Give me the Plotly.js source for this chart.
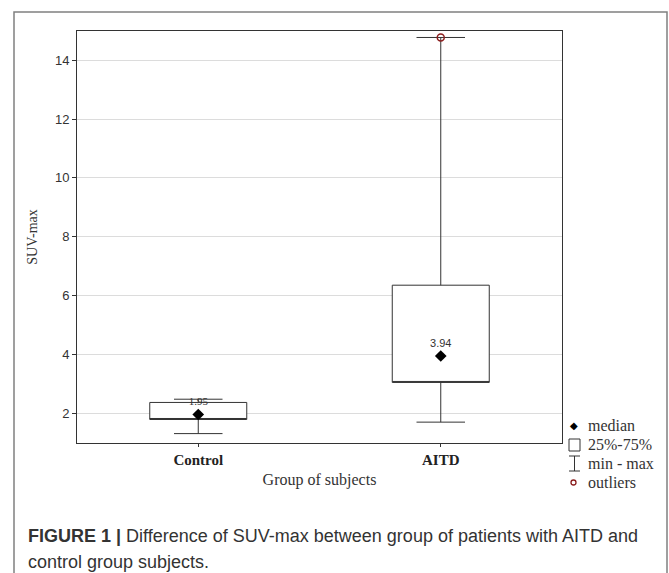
<!DOCTYPE html>
<html>
<head>
<meta charset="utf-8">
<script src="https://cdn.plot.ly/plotly-3.0.1.min.js"></script>
<style>html,body{margin:0;padding:0;background:#fff;}#chart{width:669px;height:573px;}</style>
</head>
<body>
<div id="chart"></div>
<script>
// ---- data ----
const groups = ['Control', 'AITD'];
const minVals = [1.30, 1.69];
const q1Vals = [1.78, 3.04];
const medianVals = [1.95, 3.94];
const q3Vals = [2.36, 6.35];
const maxVals = [2.47, 14.78];
const medianLabels = ['1.95', '3.94'];
const outlierGroups = ['AITD'];
const outlierVals = [14.78];
const yTicks = [2, 4, 6, 8, 10, 12, 14];

// ---- layout helpers (pixel -> paper) ----
const L = 77, R = 562, T = 31, B = 443, W = 669, H = 573;
const px = x => (x - L) / (R - L);
const py = y => (B - y) / (B - T);

const ink = '#333333';

const traces = [
  {
    type: 'box',
    x: groups,
    q1: q1Vals,
    median: q1Vals, // median line hidden on box edge; median drawn as diamond
    q3: q3Vals,
    lowerfence: minVals,
    upperfence: maxVals,
    width: 0.4,
    whiskerwidth: 0.5,
    boxpoints: false,
    fillcolor: '#ffffff',
    line: {color: ink, width: 1},
    hoverinfo: 'skip',
    showlegend: false
  },
  {
    type: 'scatter',
    mode: 'markers+text',
    x: groups,
    y: medianVals,
    text: medianLabels,
    textposition: 'top center',
    textfont: {family: ['Liberation Serif', 'Liberation Sans'], size: 11, color: ink},
    marker: {symbol: 'diamond', size: 9, color: '#000000'},
    cliponaxis: false,
    showlegend: false
  },
  {
    type: 'scatter',
    mode: 'markers',
    x: outlierGroups,
    y: outlierVals,
    marker: {symbol: 'circle-open', size: 7, color: '#8b1e1e', line: {width: 1.5}},
    cliponaxis: false,
    showlegend: false
  }
];

const legendFont = {family: 'Liberation Serif', size: 16, color: ink};
const legendRows = [
  {y: 425, label: 'median'},
  {y: 444, label: '25%-75%'},
  {y: 463, label: 'min - max'},
  {y: 482, label: 'outliers'}
];

const annotations = legendRows.map(r => ({
  xref: 'paper', yref: 'paper', x: px(586), y: py(r.y),
  xanchor: 'left', yanchor: 'middle', showarrow: false,
  text: r.label, font: legendFont
}));
annotations.push({
  xref: 'paper', yref: 'paper', x: px(573.5), y: py(425),
  xanchor: 'center', yanchor: 'middle', showarrow: false,
  text: '◆', font: {family: 'DejaVu Sans', size: 10, color: '#000'}
});
annotations.push({
  xref: 'paper', yref: 'paper', x: px(26), y: py(536),
  xanchor: 'left', yanchor: 'middle', showarrow: false, align: 'left',
  text: '<b>FIGURE 1 |</b> Difference of SUV-max between group of patients with AITD and',
  font: {family: 'Liberation Sans', size: 18, color: '#333'}
});
annotations.push({
  xref: 'paper', yref: 'paper', x: px(26), y: py(562),
  xanchor: 'left', yanchor: 'middle', showarrow: false, align: 'left',
  text: 'control group subjects.',
  font: {family: 'Liberation Sans', size: 18, color: '#333'}
});

const shapes = [
  // outer figure frame
  {type: 'rect', xref: 'paper', yref: 'paper', x0: px(14), x1: px(667), y0: py(12), y1: py(600),
   line: {color: '#808080', width: 1.5}, fillcolor: 'rgba(0,0,0,0)', layer: 'below'},
  // legend: box icon
  {type: 'rect', xref: 'paper', yref: 'paper', x0: px(569), x1: px(580), y0: py(439), y1: py(451),
   line: {color: ink, width: 1}},
  // legend: min-max icon
  {type: 'line', xref: 'paper', yref: 'paper', x0: px(574.5), x1: px(574.5), y0: py(456), y1: py(471),
   line: {color: ink, width: 1}},
  {type: 'line', xref: 'paper', yref: 'paper', x0: px(569), x1: px(580), y0: py(456), y1: py(456),
   line: {color: ink, width: 1}},
  {type: 'line', xref: 'paper', yref: 'paper', x0: px(569), x1: px(580), y0: py(471), y1: py(471),
   line: {color: ink, width: 1}},
  // legend: outlier icon
  {type: 'circle', xref: 'paper', yref: 'paper', x0: px(571), x1: px(576), y0: py(480), y1: py(485),
   line: {color: '#8b1e1e', width: 1.3}}
];

const layout = {
  width: W, height: H,
  margin: {l: L, r: W - R, t: T, b: H - B, pad: 0},
  paper_bgcolor: '#ffffff',
  plot_bgcolor: '#ffffff',
  showlegend: false,
  xaxis: {
    type: 'category',
    categoryarray: groups,
    range: [-0.5, 1.5],
    showgrid: false,
    zeroline: false,
    showline: true, mirror: true, linecolor: ink, linewidth: 1,
    ticks: 'outside', ticklen: 3, tickcolor: ink,
    tickfont: {family: 'Liberation Serif', size: 15, color: '#222', weight: 'bold'},
    title: {text: 'Group of subjects', font: {family: 'Liberation Serif', size: 16, color: ink}, standoff: 6}
  },
  yaxis: {
    range: [0.98, 15.0],
    tickvals: yTicks,
    ticktext: yTicks.map(String),
    showgrid: true, gridcolor: '#dcdcdc', gridwidth: 1,
    zeroline: false,
    showline: true, mirror: true, linecolor: ink, linewidth: 1,
    ticks: 'outside', ticklen: 4, tickcolor: ink,
    tickfont: {family: 'Liberation Sans', size: 13, color: ink},
    title: {text: 'SUV-max', font: {family: 'Liberation Serif', size: 14, color: ink}, standoff: 14}
  },
  shapes: shapes,
  annotations: annotations
};

Plotly.newPlot('chart', traces, layout, {staticPlot: true, displayModeBar: false});
</script>
</body>
</html>
